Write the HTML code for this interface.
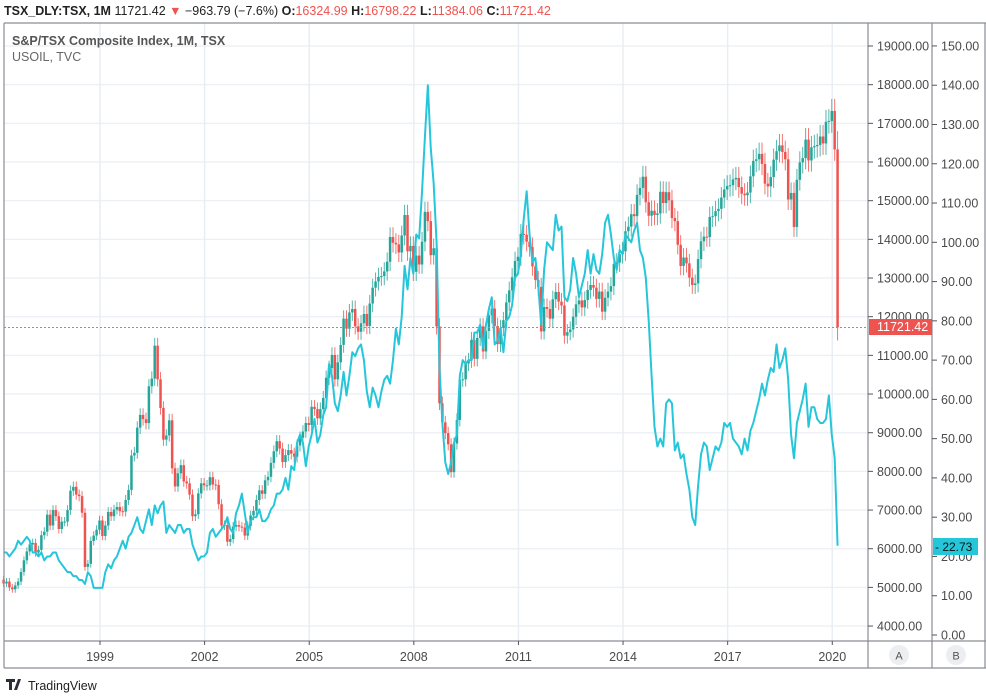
<!DOCTYPE html>
<html><head><meta charset="utf-8"><style>
body{margin:0;background:#fff;font-family:"Liberation Sans",sans-serif}
svg{display:block}
text{font-family:"Liberation Sans",sans-serif}
</style></head><body>
<svg id="chart" width="986" height="696" viewBox="0 0 986 696">
<g id="grid"></g>
<g id="marks"></g>
<g id="axes"></g>
</svg>
<script>
const tsxStart = 1996.25;
const tsxCloses = [
5100,5150,5000,4950,5050,5150,5400,5700,5930,
6110,6150,5900,5970,6350,6440,6880,6600,7000,6840,6510,6700,
6700,7000,7500,7600,7400,7360,6930,5530,5610,6200,6340,6490,
6730,6330,6600,6950,6840,7010,7080,6970,6960,7260,7520,8410,
8480,9130,9460,9350,9250,10200,10400,11250,10380,9640,8820,8930,
9320,8080,7610,7950,8160,7740,7690,7400,6840,6890,7430,7690,
7640,7640,7850,7660,7650,7150,6600,6610,6180,6250,6570,6610,
6570,6550,6340,6590,6860,6980,7260,7510,7420,7770,7860,8220,
8520,8780,8590,8240,8420,8550,8460,8380,8670,8870,9030,9250,
9200,9670,9610,9370,9610,9900,10420,10670,11010,10380,10820,11270,
11950,11690,12110,12200,11750,11610,11830,12070,11760,12340,12750,12910,
13030,13050,13170,13420,14060,13910,13870,13660,14100,14630,13690,13830,
13160,13580,13350,13940,14710,14470,13590,13770,11750,9760,9270,8990,
8700,7980,8720,9330,10370,10380,10790,10870,11400,10910,11450,11750,
11100,11630,12040,12210,11760,11290,11710,11910,12370,12680,13020,13440,
13550,14140,14120,13940,13800,13300,12950,12770,11620,12250,12200,11950,
12450,12640,12390,12290,11510,11600,11670,12000,12320,12420,12240,12430,
12690,12820,12750,12460,12650,12130,12490,12650,12790,13360,13400,13620,
13690,14210,14330,14650,14600,15150,15330,15620,14960,14610,14740,14630,
14670,15230,14940,15220,15010,14550,14470,13860,13310,13530,13380,13010,
12820,12860,13490,13950,14070,14060,14580,14600,14730,14790,15080,15290,
15380,15400,15550,15590,15350,15180,15140,15210,15630,16030,16070,16210,
15950,15440,15370,15610,16060,16280,16430,16260,16070,15030,15200,14320,
15540,15990,16100,16580,16040,16380,16410,16440,16660,16480,17040,17060,
17320,16325,11721.42];
const oilValues = [
21,21,20,21,22,24,23,24,25,
24,21,21,20,21,19,20,20,21,21,19,18,
17,16,16,15,15,14,14,13,16,15,12,12,
12,12,16,18,17,19,20,22,24,22,25,26,
28,30,27,26,29,32,28,33,31,33,34,26,
28,27,26,28,28,26,27,27,23,21,19,20,
20,21,26,27,25,26,27,28,30,27,26,31,
33,36,31,26,29,30,30,32,29,29,30,32,
33,36,36,37,40,37,43,42,49,51,49,43,
48,51,55,49,51,56,58,69,66,59,57,61,
67,61,66,72,71,73,74,70,62,58,63,61,
58,62,65,66,64,70,78,74,81,94,88,96,
92,102,101,113,127,140,124,115,100,68,54,44,
41,44,49,51,66,70,69,70,70,77,77,79,
73,79,83,86,74,75,78,72,80,81,84,91,
92,97,106,113,102,95,96,89,79,93,100,99,
98,107,103,104,86,85,88,96,92,86,89,92,
98,92,97,93,92,97,105,107,102,96,93,98,
97,102,101,100,103,105,98,96,91,80,66,53,
48,50,48,59,60,59,47,49,45,46,41,37,
30,28,38,46,49,48,42,45,48,47,49,54,
53,54,50,49,48,46,50,47,52,54,57,60,
64,61,65,68,67,74,68,70,73,65,51,45,
54,57,60,64,53,58,58,55,54,54,55,61,
51,45,22.73];
const tsxTicks = [19000,18000,17000,16000,15000,14000,13000,12000,11000,10000,9000,8000,7000,6000,5000,4000];
const oilTicks = [150,140,130,120,110,100,90,80,70,60,50,40,30,20,10,0];
const yearLabels = [1999,2002,2005,2008,2011,2014,2017,2020];

const NS="http://www.w3.org/2000/svg";
function mk(tag,attrs,parent,txt){const e=document.createElementNS(NS,tag);for(const k in attrs)e.setAttribute(k,attrs[k]);if(txt!==undefined)e.textContent=txt;parent.appendChild(e);return e;}
const xOf = t => 100 + (t-1999)*34.87;
const yA = v => 46 + (19000-v)/1000*38.67;
const yB = v => 635 - v*3.927;
const grid=document.getElementById('grid'), marks=document.getElementById('marks'), axes=document.getElementById('axes');

tsxTicks.forEach(v=>{const l=mk('line',{x1:4,x2:868,y1:yA(v),y2:yA(v),stroke:'#edf1f5','stroke-width':1.5},grid);

});
yearLabels.forEach(y=>{const l=mk('line',{x1:xOf(y),x2:xOf(y),y1:23,y2:641,stroke:'#e8eef3','stroke-width':1.5},grid);

});

const w=2.9;
for(let i=0;i<tsxCloses.length;i++){
  const c=tsxCloses[i];
  const o = i===0?5200:tsxCloses[i-1];
  const last = i===tsxCloses.length-1;
  const hi = last?16798.22:Math.max(o,c)*1.018;
  const lo = last?11384.06:Math.min(o,c)*0.982;
  const x = xOf(tsxStart + i/12) - 0.5;
  const col = c>=o?'#26a69a':'#ef5350';
  const g=mk('g',{},marks);
  
  
  mk('line',{x1:x,x2:x,y1:yA(hi),y2:yA(lo),stroke:col,'stroke-width':1,opacity:0.8},g);
  const top=yA(Math.max(o,c)), bot=yA(Math.min(o,c));
  mk('rect',{x:x-w/2+0.2,y:top,width:w-0.4,height:Math.max(1,bot-top),fill:col},g);
}
const pl=mk('line',{x1:4,x2:868,y1:yA(11721.42),y2:yA(11721.42),stroke:'#f26b6b','stroke-width':1,'stroke-dasharray':'2,2'},marks);



let d='';
oilValues.forEach((v,i)=>{d+=(i?'L':'M')+(xOf(tsxStart+i/12)-0.5).toFixed(2)+','+yB(v).toFixed(2);});
const ol=mk('path',{d:d,fill:'none',stroke:'#26c6da','stroke-width':2,'stroke-linejoin':'round'},marks);



[[4,23,986,23],[4,23,4,668],[868,23,868,668],[932,23,932,668],[985,23,985,668],[4,641,986,641],[4,668,986,668]].forEach(a=>{
 const l=mk('line',{x1:a[0],y1:a[1],x2:a[2],y2:a[3],stroke:'#8a8d96','stroke-width':1.2},axes);
 
 
});
tsxTicks.forEach(v=>{
 mk('line',{x1:868,x2:873,y1:yA(v),y2:yA(v),stroke:'#555'},axes);
 const t=mk('text',{x:877,y:yA(v)+4.5,'font-size':12.5,fill:'#4a4a4a'},axes,v.toFixed(2));
 
 
});
oilTicks.forEach(v=>{
 mk('line',{x1:932,x2:937,y1:yB(v),y2:yB(v),stroke:'#555'},axes);
 const t=mk('text',{x:941,y:yB(v)+4.5,'font-size':12.5,fill:'#4a4a4a'},axes,v.toFixed(2));
 
 
});
yearLabels.forEach(y=>{
 mk('line',{x1:xOf(y),x2:xOf(y),y1:641,y2:645,stroke:'#555'},axes);
 const t=mk('text',{x:xOf(y),y:661,'font-size':12.5,fill:'#4a4a4a','text-anchor':'middle'},axes,String(y));
 
 
});
</script>
<svg width="986" height="696" style="position:absolute;left:0;top:0">
<text x="4" y="15" font-size="12.5" fill="#222"><tspan font-weight="bold">TSX_DLY:TSX, 1M</tspan> 11721.42 <tspan fill="#ef5350">▼</tspan> −963.79 (−7.6%) <tspan font-weight="bold">O:</tspan><tspan fill="#ef5350">16324.99</tspan> <tspan font-weight="bold">H:</tspan><tspan fill="#ef5350">16798.22</tspan> <tspan font-weight="bold">L:</tspan><tspan fill="#ef5350">11384.06</tspan> <tspan font-weight="bold">C:</tspan><tspan fill="#ef5350">11721.42</tspan></text>
<text x="12" y="45" font-size="12.5" font-weight="bold" fill="#555">S&amp;P/TSX Composite Index, 1M, TSX</text>
<text x="12" y="61" font-size="12.5" fill="#666">USOIL, TVC</text>
<rect x="869" y="319" width="63" height="16" fill="#ef5350"/>
<text x="877" y="331" font-size="12.5" fill="#fff">11721.42</text>
<rect x="933" y="538" width="45" height="17" fill="#26c6da"/>
<text x="935" y="551" font-size="12" fill="#111">- 22.73</text>
<circle cx="899" cy="655" r="10" fill="#eceef2"/>
<text x="899" y="659.5" font-size="11" fill="#555" text-anchor="middle">A</text>
<circle cx="956" cy="655" r="10" fill="#eceef2"/>
<text x="956" y="659.5" font-size="11" fill="#555" text-anchor="middle">B</text>
<g>
<path d="M6 679h9v3h-3v8h-3v-8h-3z" fill="#2a2e39"/><path d="M14 690l4-11h3l-4 11z" fill="#2a2e39"/><circle cx="13" cy="680.5" r="1.6" fill="#2a2e39"/>
<text x="28" y="690" font-size="12.5" fill="#222">TradingView</text>
</g>
</svg>
</body></html>
